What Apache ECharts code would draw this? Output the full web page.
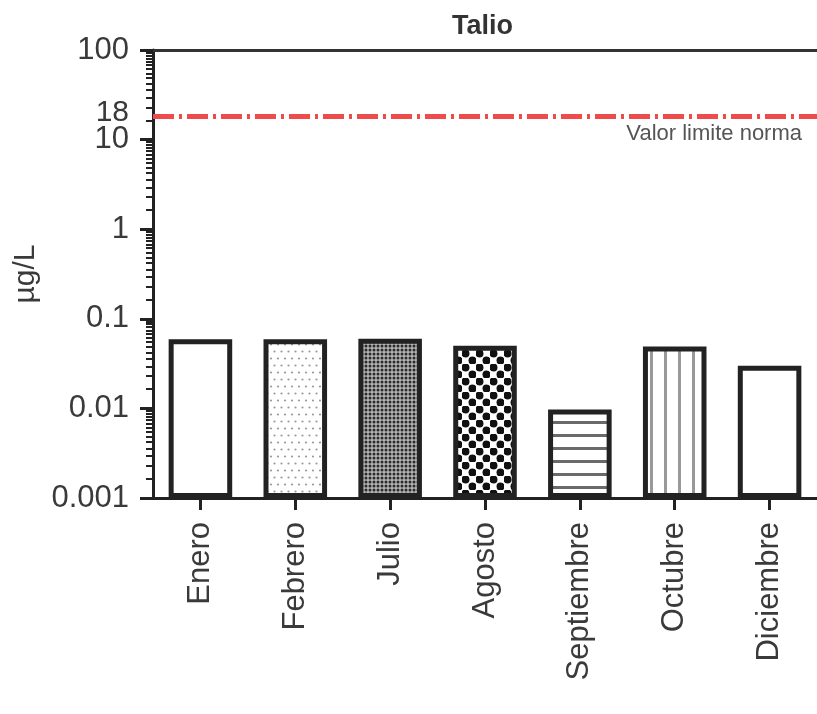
<!DOCTYPE html>
<html><head><meta charset="utf-8">
<script src="https://cdn.jsdelivr.net/npm/echarts@6/dist/echarts.min.js"></script>
<style>html,body{margin:0;padding:0;background:#fff}#c{width:817px;height:714px}</style>
</head><body><div id="c"></div>
<script>
const categories = ['Enero','Febrero','Julio','Agosto','Septiembre','Octubre','Diciembre'];
const values = [0.059, 0.059, 0.060, 0.050, 0.0097, 0.049, 0.030];
const yTicks = [0.001, 0.01, 0.1, 1, 10, 100];
const limitValue = 18;
const limitLabel = 'Valor limite norma';
const titleText = 'Talio';
const yName = 'µg/L';

const FONT = 'Liberation Sans';

function tile(w, h, bg, draw) {
  const c = document.createElement('canvas');
  c.width = w; c.height = h;
  const g = c.getContext('2d');
  g.fillStyle = bg; g.fillRect(0, 0, w, h);
  draw(g);
  return { image: c, repeat: 'repeat' };
}
function dot(g, x, y, r) { g.beginPath(); g.arc(x, y, r, 0, Math.PI * 2); g.fill(); }

const patterns = [
  '#ffffff',
  tile(7, 14, '#ffffff', g => { g.fillStyle = '#9a9a9a'; dot(g, 1.5, 1.5, 1.1); dot(g, 5, 8.5, 1.1); }),
  tile(4, 4, '#b4b4b4', g => { g.fillStyle = '#2a2a2a'; dot(g, 2, 2, 1.5); }),
  tile(14, 14, '#ffffff', g => { g.fillStyle = '#111111'; dot(g, 3.5, 3.5, 4); dot(g, 10.5, 10.5, 4); }),
  tile(13, 13, '#ffffff', g => { g.fillStyle = '#6a6a6a'; g.fillRect(0, 5, 13, 3); }),
  tile(14, 14, '#ffffff', g => { g.fillStyle = '#999999'; g.fillRect(6, 0, 3, 14); }),
  '#ffffff'
];

const chart = echarts.init(document.getElementById('c'), null, { renderer: 'canvas' });
chart.setOption({
  animation: false,
  backgroundColor: '#ffffff',
  title: {
    text: titleText, left: 447, top: 8,
    textStyle: { fontFamily: FONT, fontSize: 27, fontWeight: 'bold', color: '#333' }
  },
  grid: { left: 153, right: -6, top: 50, bottom: 216 },
  xAxis: [{
    type: 'category', data: categories, position: 'bottom',
    axisLine: { onZero: false, lineStyle: { color: '#222', width: 3 } },
    axisTick: { show: true, alignWithLabel: true, length: 12, lineStyle: { color: '#222', width: 3 } },
    axisLabel: { rotate: 90, margin: 24, fontFamily: FONT, fontSize: 31, color: '#3a3a3a' }
  }, {
    type: 'category', data: categories, position: 'top',
    axisLine: { onZero: false, lineStyle: { color: '#333', width: 3 } },
    axisTick: { show: false }, axisLabel: { show: false }
  }],
  yAxis: {
    type: 'log', logBase: 10, min: yTicks[0], max: yTicks[yTicks.length - 1], startValue: yTicks[0],
    name: yName, nameLocation: 'middle', nameGap: 110,
    nameTextStyle: { fontFamily: FONT, fontSize: 30, color: '#3a3a3a' },
    axisLine: { show: true, lineStyle: { color: '#222', width: 3 } },
    axisTick: { show: true, length: 13, lineStyle: { color: '#222', width: 3 } },
    minorTick: { show: true, splitNumber: 14, length: 7, lineStyle: { color: '#222', width: 2 } },
    splitLine: { show: false },
    axisLabel: {
      margin: 24, fontFamily: FONT, fontSize: 31, color: '#3a3a3a',
      formatter: v => {
        const t = yTicks.find(t => Math.abs(Math.log10(t) - Math.log10(v)) < 1e-6);
        return t === undefined ? '' : String(t);
      }
    }
  },
  series: [{
    type: 'bar', xAxisIndex: 0, barWidth: '67%',
    data: values.map((v, i) => ({ value: v, itemStyle: { color: patterns[i] } })),
    itemStyle: { borderColor: '#222', borderWidth: 5 },
    markLine: {
      silent: true, symbol: ['none', 'none'], animation: false,
      data: [
        {
          yAxis: limitValue,
          lineStyle: { color: '#ee4b4b', width: 5, type: [21, 5, 3, 5] },
          label: { show: true, position: 'insideEndBottom', formatter: limitLabel, fontFamily: FONT, fontSize: 22, color: '#555', distance: [15, 6] }
        },
        {
          yAxis: limitValue,
          lineStyle: { color: 'rgba(0,0,0,0)', width: 0 },
          label: { show: true, position: 'start', formatter: String(limitValue), fontFamily: FONT, fontSize: 30, color: '#3a3a3a', distance: 24, offset: [0, -4] }
        }
      ]
    }
  }]
});
</script>
</body></html>
